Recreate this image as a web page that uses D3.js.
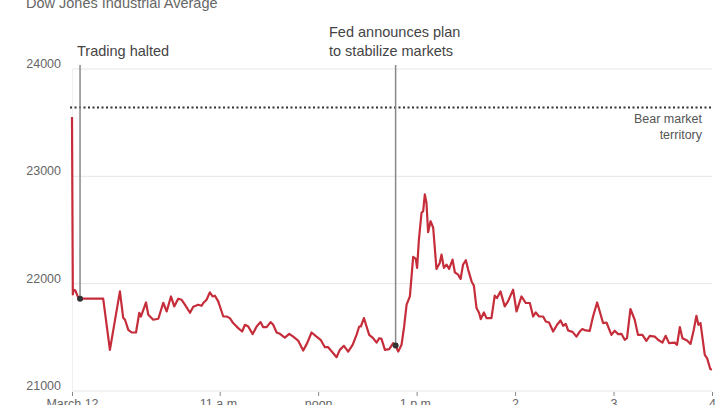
<!DOCTYPE html>
<html>
<head>
<meta charset="utf-8">
<script src="https://cdn.jsdelivr.net/npm/d3@7"></script>
<style>
  body { margin: 0; background: #fff; }
  svg { font-family: "Liberation Sans", Arial, sans-serif; }
</style>
</head>
<body>
<script>
// minutes after the 9:30 open on March 12, 2020
var minutes = [0, 0.5, 1, 2, 3.5, 4.9, 19, 23.1, 29.2, 31.2, 32.3, 34.3, 36.4, 39, 41, 42, 45.1, 46.5, 49.5, 52.6, 55.6, 57.7, 60.3, 62.3, 64.7, 66.8, 68.8, 71.9, 73.9, 76.9, 79, 80, 82, 84, 85.7, 87.1, 89.1, 92.2, 94.2, 96.2, 98.2, 101.3, 103.7, 105.4, 107.4, 110.1, 112.5, 114.9, 116.5, 118.6, 121, 122.6, 124.7, 126.7, 129.7, 132.4, 134.8, 137.8, 140.9, 143.3, 146, 149, 151.5, 154.1, 156.1, 159.2, 161.2, 163.2, 165.7, 168.3, 171, 173.4, 175, 176, 177.9, 179.5, 181.1, 183.5, 185.6, 187.2, 188.6, 190.7, 193.3, 195.7, 197.2, 198.8, 200.8, 202.4, 203.9, 205.9, 207.9, 209.5, 210.3, 211.4, 213, 214, 215, 216, 217, 218.5, 220.1, 222.1, 224.1, 225.2, 226.6, 228.2, 229.8, 231.9, 233.3, 235.3, 236.8, 238.3, 240, 241.4, 243.5, 244.9, 246.5, 248.1, 249.1, 251, 252.6, 255.6, 257.6, 259, 261.1, 263.7, 265.7, 268.8, 270.9, 273.9, 276.5, 279, 281, 282.6, 284.6, 287.1, 288.7, 290.7, 293.2, 295.6, 297.7, 299.3, 300.9, 302.3, 305, 307.4, 309.4, 311, 313, 315.5, 317.5, 320, 321.6, 323.6, 325.7, 328.7, 330.7, 332.8, 334.8, 336.8, 338.2, 340.3, 342.9, 344.9, 347.6, 350, 352.1, 355.1, 357.1, 359.8, 361.8, 363.8, 367.3, 368.7, 370.4, 372, 374.8, 376.9, 378.9, 380.5, 381.7, 383, 385.6, 387, 389, 390];

// index level
var values = [23553, 21900, 21944, 21937, 21881, 21860, 21860, 21383, 21928, 21682, 21664, 21570, 21545, 21545, 21729, 21694, 21825, 21710, 21664, 21673, 21822, 21741, 21881, 21788, 21860, 21850, 21804, 21729, 21785, 21804, 21794, 21820, 21850, 21919, 21881, 21888, 21835, 21694, 21694, 21679, 21633, 21586, 21554, 21617, 21601, 21530, 21601, 21642, 21595, 21595, 21642, 21617, 21545, 21533, 21498, 21533, 21507, 21470, 21377, 21446, 21545, 21507, 21477, 21408, 21408, 21352, 21315, 21383, 21421, 21367, 21430, 21523, 21601, 21601, 21679, 21601, 21523, 21492, 21451, 21492, 21486, 21383, 21390, 21446, 21423, 21367, 21430, 21601, 21804, 21881, 22250, 22231, 22147, 22411, 22661, 22676, 22832, 22754, 22479, 22582, 22521, 22137, 22193, 22271, 22147, 22178, 22137, 22224, 22106, 22084, 22044, 22178, 22218, 22131, 22021, 21981, 21773, 21726, 21670, 21732, 21679, 21679, 21888, 21866, 21928, 21788, 21835, 21944, 21741, 21881, 21820, 21820, 21694, 21732, 21694, 21694, 21648, 21638, 21554, 21617, 21657, 21607, 21626, 21564, 21551, 21507, 21554, 21577, 21564, 21561, 21694, 21825, 21741, 21633, 21638, 21523, 21561, 21530, 21533, 21477, 21492, 21764, 21664, 21523, 21523, 21467, 21514, 21507, 21477, 21451, 21514, 21446, 21451, 21430, 21595, 21492, 21470, 21439, 21570, 21701, 21617, 21633, 21336, 21306, 21203, 21200];

var yTicks = [21000, 22000, 23000, 24000];
var xTickHours = [9.5, 11, 12, 13, 14, 15, 16];
var xTickLabels = ["March 12", "11 a.m.", "noon", "1 p.m.", "2", "3", "4"];

var bearLevel = 23641;

// annotations: minute of the event and label lines
var events = [
    { minute: 4.9, lines: ["Trading halted"], tx: 77 },
    { minute: 197.2, lines: ["Fed announces plan", "to stabilize markets"], tx: 329 }
];

var w = 720, h = 405;
var open = new Date(2020, 2, 12, 9, 30);

function toDate(m){
    return new Date(open.getTime() + m * 60000);
}

var data = minutes.map(function(m, i){
    return { date: toDate(m), value: values[i] };
});

var svg = d3.select("body")
    .append("svg")
    .attr("width", w)
    .attr("height", h);

var x = d3.scaleTime()
    .domain([open, new Date(2020, 2, 12, 16, 0)])
    .range([72, 712]);

var y = d3.scaleLinear()
    .domain([21000, 24000])
    .range([391, 69]);

//title
svg.append("text")
    .attr("x", 26)
    .attr("y", 8)
    .style("font-size", "14.5px")
    .style("fill", "#666")
    .text("Dow Jones Industrial Average");

//horizontal gridlines
svg.selectAll(".grid")
    .data(yTicks)
    .enter()
    .append("line")
    .attr("class", "grid")
    .attr("x1", 72)
    .attr("x2", 712)
    .attr("y1", function(d){ return y(d); })
    .attr("y2", function(d){ return y(d); })
    .style("stroke", "#e6e6e6")
    .style("stroke-width", 1);

//faint left edge
svg.append("line")
    .attr("x1", 72.5).attr("x2", 72.5)
    .attr("y1", y(24000)).attr("y2", y(21000))
    .style("stroke", "#f0f0f0");

//y labels
svg.selectAll(".ylab")
    .data(yTicks)
    .enter()
    .append("text")
    .attr("class", "ylab")
    .attr("x", 61)
    .attr("y", function(d){ return y(d) - 1; })
    .attr("text-anchor", "end")
    .style("font-size", "12.5px")
    .style("fill", "#666")
    .text(function(d){ return d; });

//x axis
var xTickDates = xTickHours.map(function(hr){
    return new Date(2020, 2, 12, Math.floor(hr), (hr % 1) * 60);
});

var xAxis = d3.axisBottom(x)
    .tickValues(xTickDates)
    .tickSize(5)
    .tickFormat(function(d, i){ return xTickLabels[i]; });

var axis = svg.append("g")
    .attr("class", "axis")
    .attr("transform", "translate(0," + y(21000) + ")")
    .call(xAxis);

axis.select(".domain").remove();
axis.selectAll("line").style("stroke", "#888").attr("y1", 1);
axis.selectAll("text")
    .attr("y", 8)
    .style("font-size", "12.5px")
    .style("fill", "#666")
    .style("font-family", "'Liberation Sans', Arial, sans-serif");

//bear market dotted line
svg.append("line")
    .attr("x1", 70)
    .attr("x2", 712)
    .attr("y1", y(bearLevel))
    .attr("y2", y(bearLevel))
    .style("stroke", "#333")
    .style("stroke-width", 2)
    .style("stroke-dasharray", "2,2.5");

var bearLabel = svg.append("text")
    .attr("text-anchor", "end")
    .style("font-size", "12.5px")
    .style("fill", "#555");

bearLabel.append("tspan").attr("x", 702).attr("y", 123).text("Bear market");
bearLabel.append("tspan").attr("x", 702).attr("y", 139).text("territory");

//event lines
svg.selectAll(".eventLine")
    .data(events)
    .enter()
    .append("line")
    .attr("class", "eventLine")
    .attr("x1", function(d){ return x(toDate(d.minute)); })
    .attr("x2", function(d){ return x(toDate(d.minute)); })
    .attr("y1", 65)
    .attr("y2", function(d){ return y(values[minutes.indexOf(d.minute)]); })
    .style("stroke", "#888")
    .style("stroke-width", 1.5);

//price line
var line = d3.line()
    .x(function(d){ return x(d.date); })
    .y(function(d){ return y(d.value); });

svg.append("path")
    .datum(data)
    .attr("d", line)
    .style("fill", "none")
    .style("stroke", "#c62d3b")
    .style("stroke-width", 2.2)
    .style("stroke-linejoin", "round");

//event dots
svg.selectAll(".eventDot")
    .data(events)
    .enter()
    .append("circle")
    .attr("class", "eventDot")
    .attr("cx", function(d){ return x(toDate(d.minute)); })
    .attr("cy", function(d){ return y(values[minutes.indexOf(d.minute)]); })
    .attr("r", 3)
    .style("fill", "#333");

//event labels
var labels = svg.selectAll(".eventLabel")
    .data(events)
    .enter()
    .append("text")
    .attr("class", "eventLabel")
    .style("font-size", "14.5px")
    .style("fill", "#444");

labels.selectAll("tspan")
    .data(function(d){
        var n = d.lines.length;
        return d.lines.map(function(t, i){
            return { text: t, x: d.tx, y: 56 - (n - 1 - i) * 19 };
        });
    })
    .enter()
    .append("tspan")
    .attr("x", function(d){ return d.x; })
    .attr("y", function(d){ return d.y; })
    .text(function(d){ return d.text; });
</script>
</body>
</html>
